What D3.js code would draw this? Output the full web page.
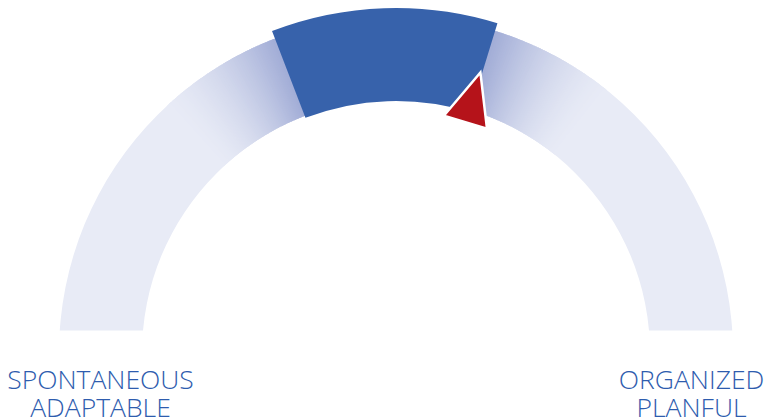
<!DOCTYPE html>
<html>
<head>
<meta charset="utf-8">
<script src="https://cdn.jsdelivr.net/npm/d3@7"></script>
<style>
  html, body { margin: 0; padding: 0; background: #fff; }
  svg { display: block; }
</style>
</head>
<body>
<svg id="gauge"></svg>
<script>
// gauge data
var scaleDomain = [0, 100];
var bandRange = [38.3, 59.5];
var markerValue = [59.3];
var leftLabels = ["SPONTANEOUS", "ADAPTABLE"];
var rightLabels = ["ORGANIZED", "PLANFUL"];

var width = 767, height = 419;
var cx = 396, cy = 353;
var rInner = 254, rOuter = 337;
var bandInner = 252, bandOuter = 345;
var fadeSpan = 12; // value units of the glow on each side of the band

var svg = d3.select("#gauge")
  .attr("width", width)
  .attr("height", height);

var angle = d3.scaleLinear()
  .domain(scaleDomain)
  .range([-Math.PI / 2, Math.PI / 2]);

svg.append("defs").append("clipPath")
  .attr("id", "cut")
  .append("rect")
  .attr("x", 0).attr("y", 0)
  .attr("width", width).attr("height", 330.5);

var arc = d3.arc();

// background track
var track = svg.append("g")
  .attr("clip-path", "url(#cut)")
  .append("g")
  .attr("transform", "translate(" + cx + "," + cy + ")");

track.append("path")
  .attr("d", arc({innerRadius: rInner, outerRadius: rOuter,
    startAngle: angle(scaleDomain[0]), endAngle: angle(scaleDomain[1])}))
  .attr("fill", "#e8ebf6");

// glow around the band, drawn in thin slices
var glow = d3.interpolateRgb("#e8ebf6", "#a3aed7");
var steps = 60;
function drawGlow(edge, dir) {
  for (var i = 0; i < steps; i++) {
    var v0 = edge + dir * fadeSpan * (1 - i / steps);
    var v1 = edge + dir * fadeSpan * (1 - (i + 1) / steps);
    var t = Math.pow((i + 1) / steps, 1.6);
    var a0 = Math.min(angle(v0), angle(v1)) - 0.002;
    var a1 = Math.max(angle(v0), angle(v1)) + 0.002;
    track.append("path")
      .attr("d", arc({innerRadius: rInner, outerRadius: rOuter, startAngle: a0, endAngle: a1}))
      .attr("fill", glow(t));
  }
}
drawGlow(bandRange[0], -1);
drawGlow(bandRange[1], 1);

// highlighted band
var front = svg.append("g")
  .attr("transform", "translate(" + cx + "," + cy + ")");

front.append("path")
  .attr("d", arc({innerRadius: bandInner, outerRadius: bandOuter,
    startAngle: angle(bandRange[0]), endAngle: angle(bandRange[1])}))
  .attr("fill", "#3762ab");

// marker
front.selectAll(".marker")
  .data(markerValue)
  .enter()
  .append("path")
  .attr("class", "marker")
  .attr("transform", function(d) { return "rotate(" + (angle(d) * 180 / Math.PI) + ")"; })
  .attr("d", "M0,-293 L22.5,-241 L-22.5,-241 Z")
  .attr("fill", "#b5131a")
  .attr("stroke", "#fff")
  .attr("stroke-width", 2.5)
  .attr("stroke-linejoin", "miter");

// pole labels
var labelX = (rInner + rOuter) / 2;
function drawLabel(lines, x) {
  var t = svg.append("text")
    .attr("x", x)
    .attr("y", 389)
    .attr("text-anchor", "middle")
    .style("font-family", "'Open Sans', sans-serif")
    .style("font-weight", 300)
    .style("font-size", "26.5px")
    .style("fill", "#2e5cae");
  lines.forEach(function(s, i) {
    t.append("tspan").attr("x", x).attr("dy", i === 0 ? 0 : 28).text(s);
  });
}
drawLabel(leftLabels, cx - labelX);
drawLabel(rightLabels, cx + labelX);
</script>
</body>
</html>
